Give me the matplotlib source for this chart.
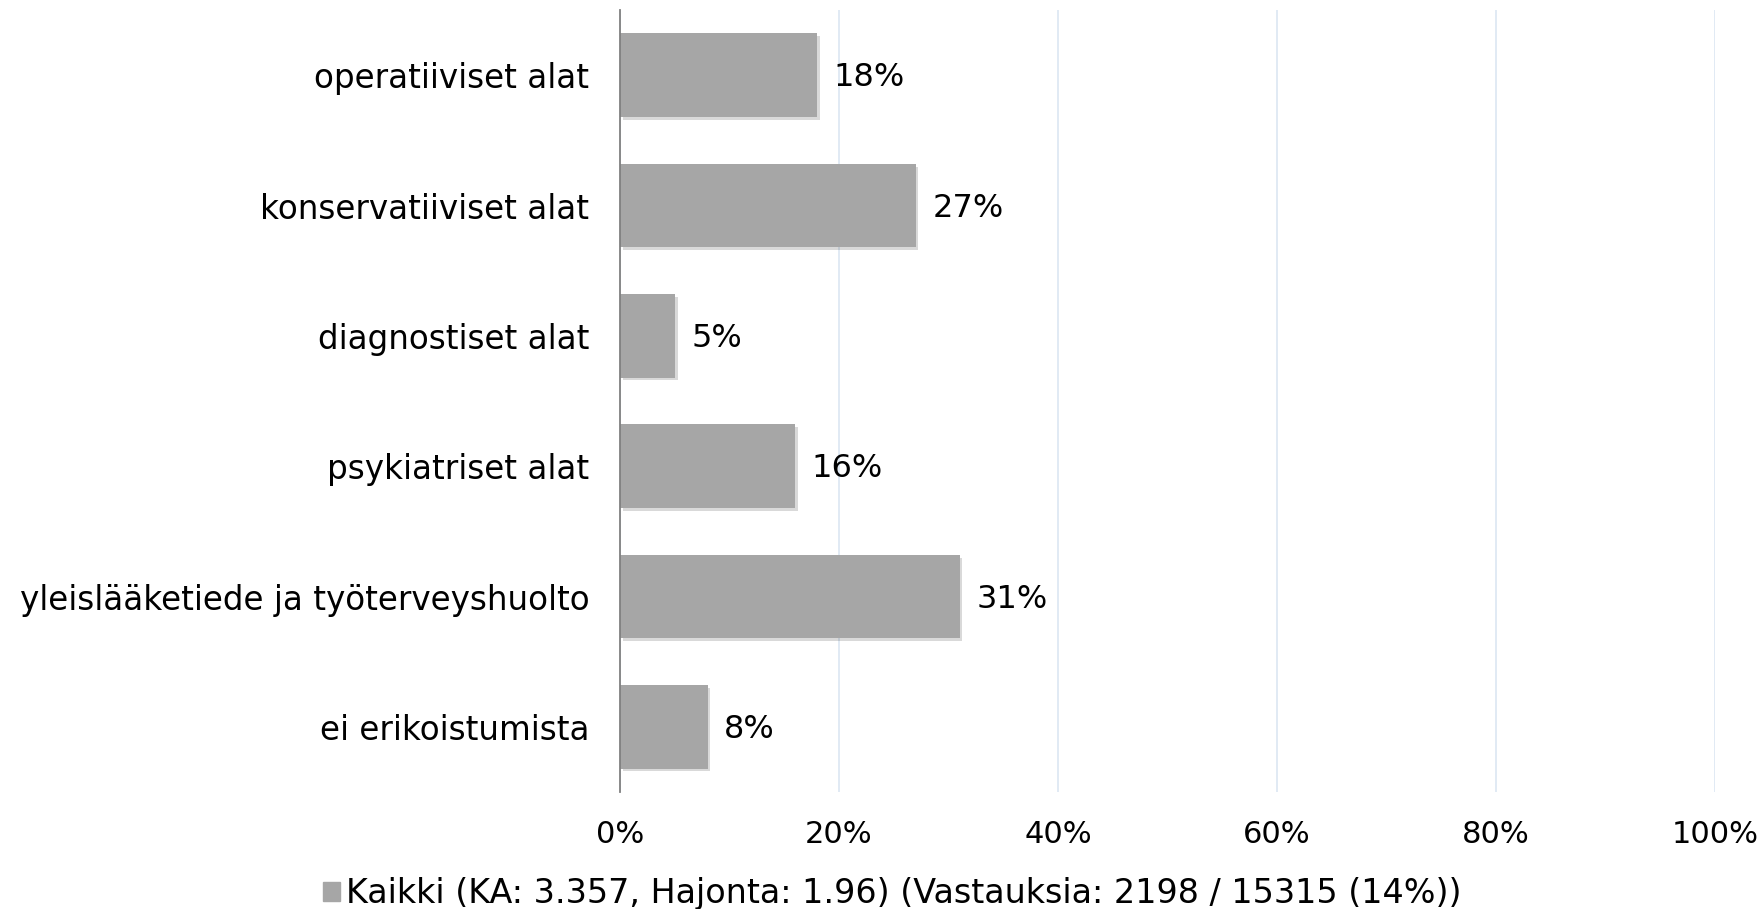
import matplotlib
matplotlib.use("Agg")
import matplotlib.pyplot as plt
import matplotlib.patheffects as pe
from matplotlib.patches import Rectangle

plt.rcParams["font.family"] = ["DejaVu Sans"]

categories = [
    "operatiiviset alat",
    "konservatiiviset alat",
    "diagnostiset alat",
    "psykiatriset alat",
    "yleislääketiede ja työterveyshuolto",
    "ei erikoistumista",
]
values = [18, 27, 5, 16, 31, 8]
x_ticks = [0, 20, 40, 60, 80, 100]
x_tick_labels = ["0%", "20%", "40%", "60%", "80%", "100%"]
legend_label = "Kaikki (KA: 3.357, Hajonta: 1.96) (Vastauksia: 2198 / 15315 (14%))"

BAR_COLOR = "#a6a6a6"


def main():
    fig = plt.figure(figsize=(17.6, 9.09), dpi=100)
    ax = fig.add_axes([0.3523, 0.1287, 0.6222, 0.8603])

    y = list(range(len(categories)))
    bars = ax.barh(y, values, height=0.64, color=BAR_COLOR, zorder=3)
    for b in bars:
        b.set_path_effects([
            pe.SimplePatchShadow(offset=(2, -2), shadow_rgbFace="#000000", alpha=0.15),
            pe.Normal(),
        ])

    for yi, v in zip(y, values):
        ax.annotate(f"{v}%", (v, yi), xytext=(12, -2), textcoords="offset points",
                    va="center", ha="left", fontsize=23, color="#000000")

    ax.set_xlim(0, 100)
    ax.set_ylim(len(categories) - 0.5, -0.5)
    ax.set_xticks(x_ticks)
    ax.set_xticklabels(x_tick_labels)
    ax.set_yticks(y)
    ax.set_yticklabels(categories)
    ax.tick_params(axis="x", length=0, pad=20, labelsize=22)
    ax.tick_params(axis="y", length=0, pad=22, labelsize=23.5)

    ax.grid(axis="x", color="#dce6f2", linewidth=1.2, zorder=0)
    for s in ["top", "right", "bottom"]:
        ax.spines[s].set_visible(False)
    ax.spines["left"].set_color("#808080")
    ax.spines["left"].set_linewidth(1.3)
    ax.spines["left"].set_zorder(4)

    handle = Rectangle((0, 0), 1, 1, color=BAR_COLOR)
    fig.legend([handle], [legend_label], loc="center", bbox_to_anchor=(0.507, 0.017),
               frameon=False, handlelength=0.5, handleheight=0.5, handletextpad=0.2,
               fontsize=24)

    fig.savefig("out.png", dpi=100)


if __name__ == "__main__":
    main()
